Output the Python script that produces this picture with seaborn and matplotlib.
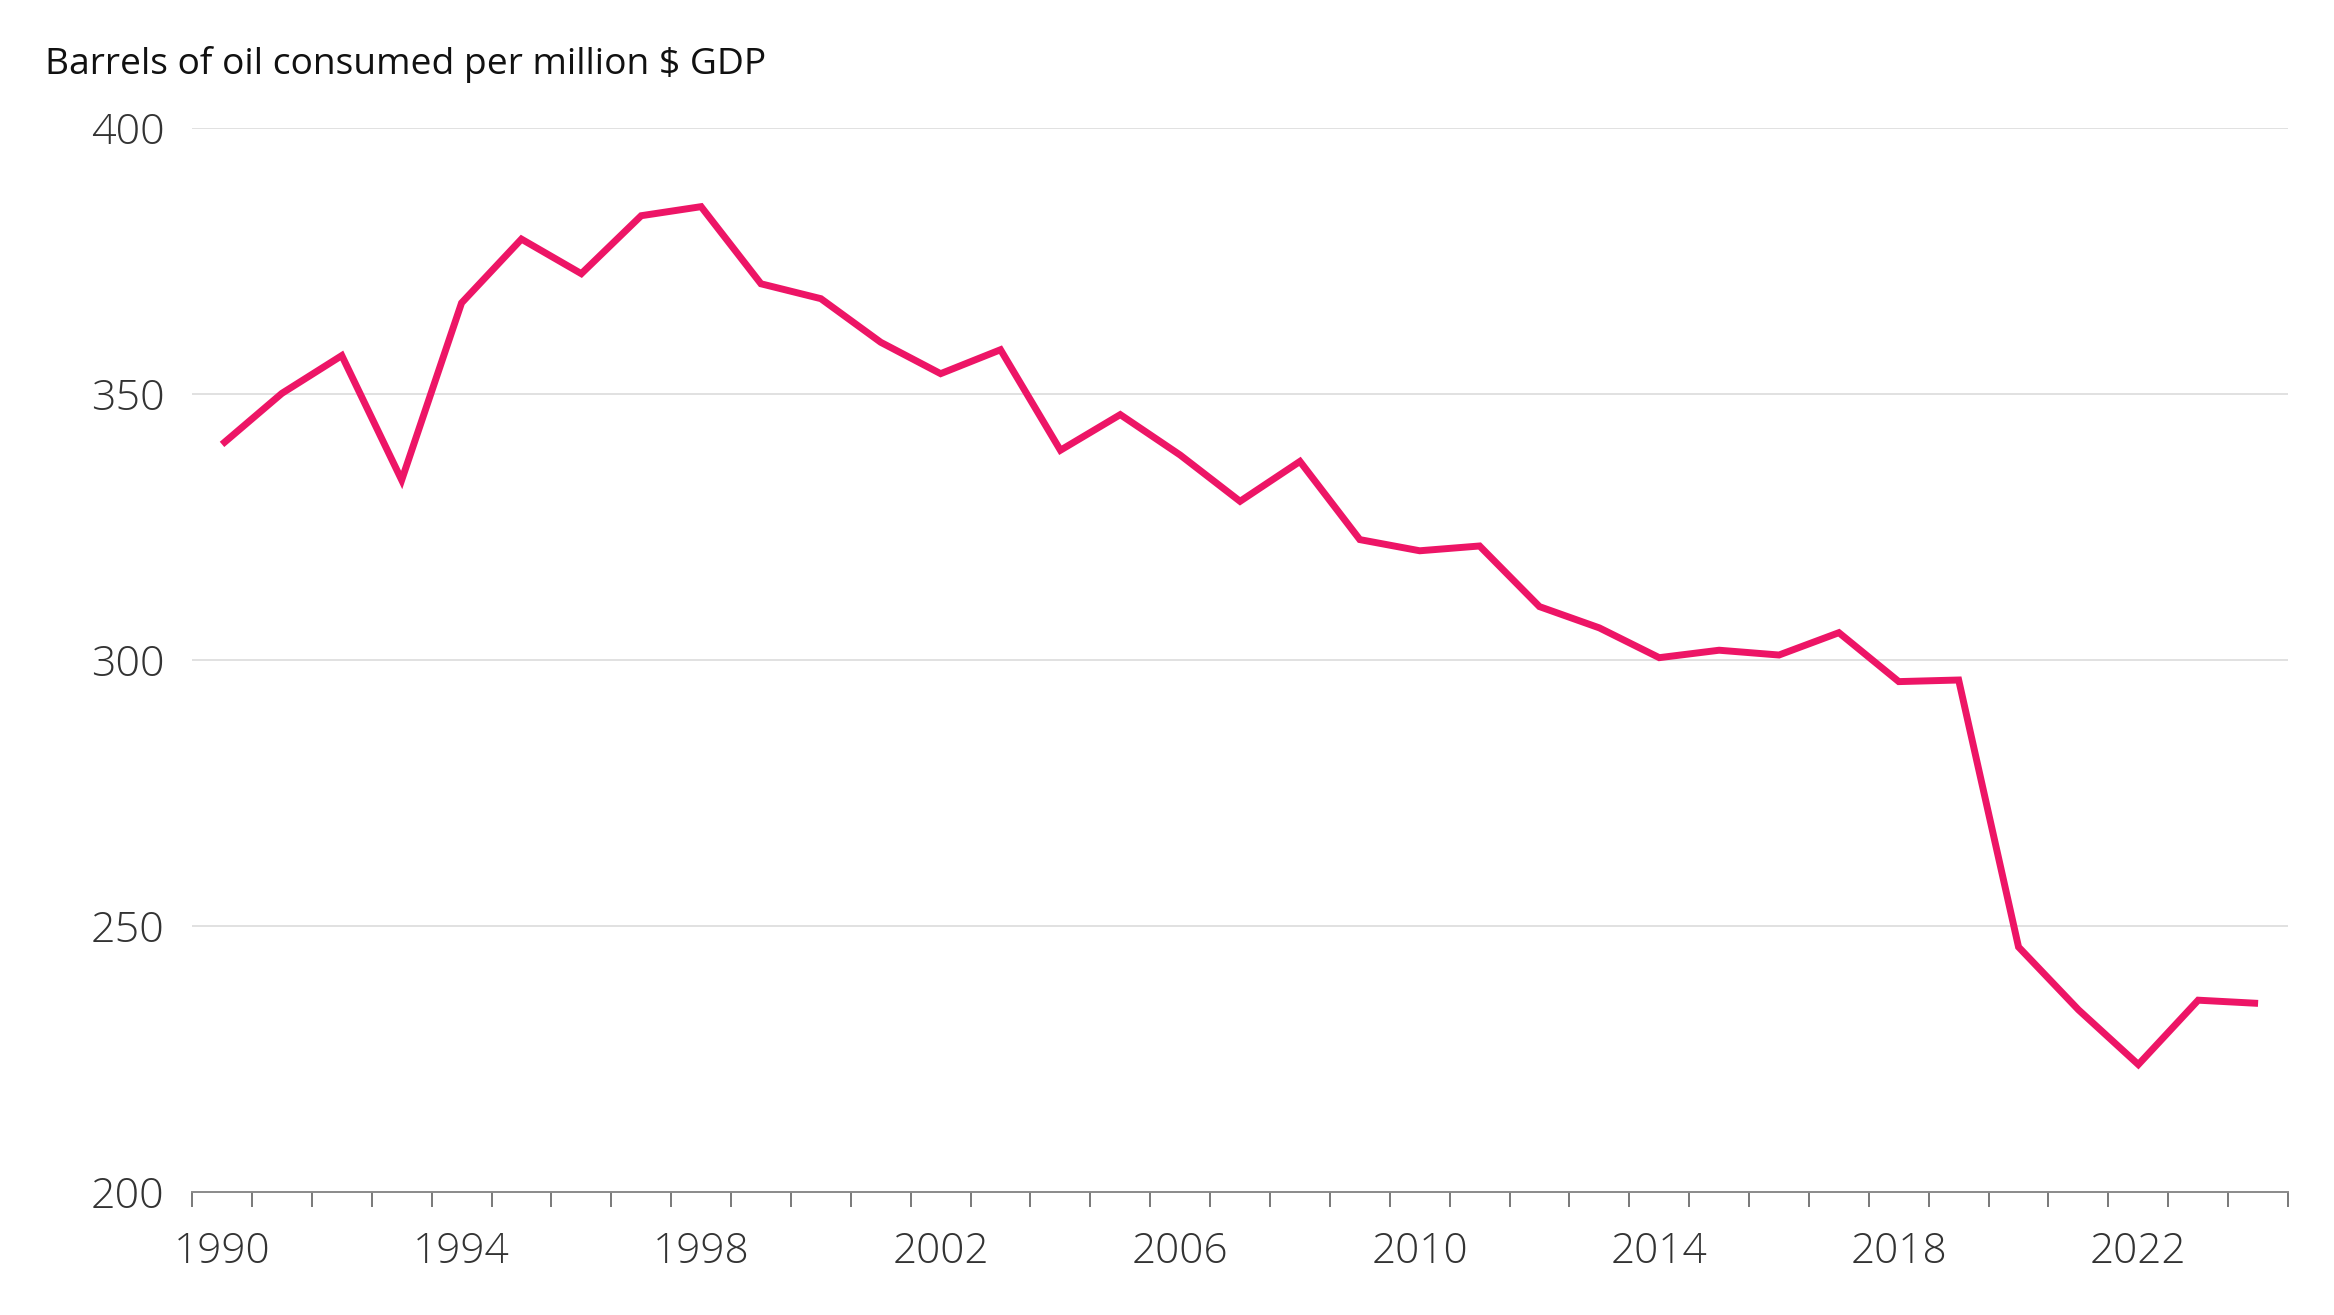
import numpy as np
import pandas as pd
import matplotlib
matplotlib.use("Agg")
import matplotlib.pyplot as plt
import seaborn as sns

# --- дані ---
years = list(range(1990, 2025))
barrels = [340.5, 350.1, 357.2, 333.8, 367.1, 379.1, 372.6, 383.5, 385.2, 370.7,
           367.9, 359.7, 353.8, 358.3, 339.4, 346.1, 338.5, 329.8, 337.3, 322.6,
           320.5, 321.4, 310.0, 306.0, 300.4, 301.8, 300.9, 305.1, 295.9, 296.2,
           246.0, 234.2, 223.9, 236.0, 235.4]
y_ticks = [200, 250, 300, 350, 400]
x_label_years = [1990, 1994, 1998, 2002, 2006, 2010, 2014, 2018, 2022]
title = "Barrels of oil consumed per million $ GDP"

df = pd.DataFrame({"year": years, "barrels": barrels})

sns.set_style("white")
plt.rcParams["font.family"] = ["Open Sans", "DejaVu Sans"]

fig = plt.figure(figsize=(23.34, 13.15), dpi=100)
ax = fig.add_axes([0.0823, 0.0938, 0.898, 0.8089])

sns.lineplot(data=df, x="year", y="barrels", ax=ax, color="#ED1566",
             linewidth=5.0, solid_capstyle="butt", solid_joinstyle="miter")

ax.set_xlim(1989.5, 2024.5)
ax.set_ylim(200, 400)

# сітка
ax.set_yticks(y_ticks)
for v in y_ticks[1:]:
    ax.axhline(v, color="#d9d9d9", linewidth=1.1, zorder=0)

# осі
for s in ["top", "right", "left"]:
    ax.spines[s].set_visible(False)
ax.spines["bottom"].set_color("#8a8a8a")
ax.spines["bottom"].set_linewidth(1.4)

# риски на межах років, підписи по центру років
ax.set_xticks(np.arange(1989.5, 2025, 1))
ax.set_xticklabels([])
ax.tick_params(axis="x", which="major", bottom=True, length=11, width=1.1,
               color="#555555", direction="out")
ax.set_xticks(x_label_years, minor=True)
ax.set_xticklabels([str(y) for y in x_label_years], minor=True)
ax.tick_params(axis="x", which="minor", bottom=True, length=0, pad=28,
               labelsize=30.5, labelcolor="#333333")
ax.tick_params(axis="y", left=False, length=0, pad=20, labelsize=31, labelcolor="#333333")
for lab in ax.get_xticklabels(minor=True) + ax.get_yticklabels():
    lab.set_fontweight("light")

ax.set_xlabel("")
ax.set_ylabel("")

fig.text(45 / 2334, 1 - 74 / 1315, title, fontsize=26.8, color="#111111",
         va="baseline", ha="left")

fig.savefig("out.png", dpi=100, facecolor="white")
